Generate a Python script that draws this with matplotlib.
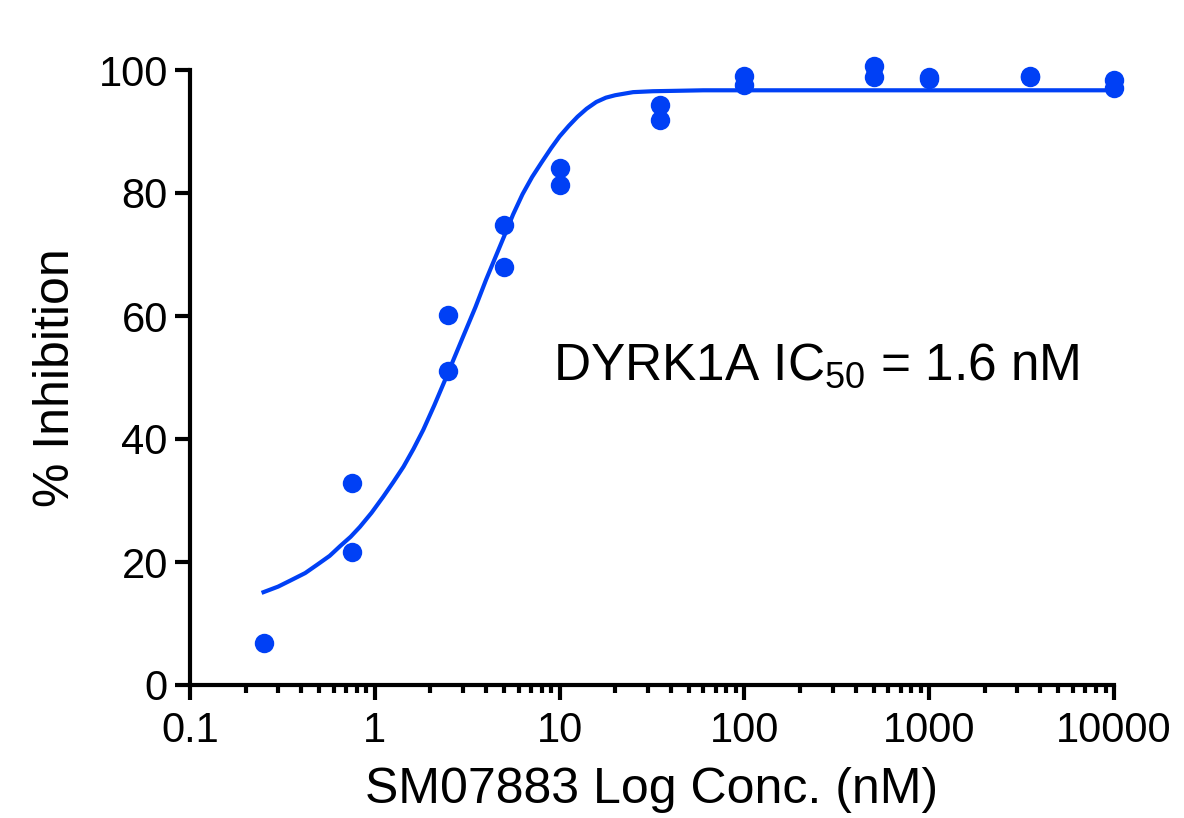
import matplotlib
matplotlib.use("Agg")
import matplotlib.pyplot as plt
from matplotlib.ticker import LogLocator, FixedLocator, NullFormatter

plt.rcParams['font.family'] = ['Liberation Sans', 'DejaVu Sans']
plt.rcParams['mathtext.fontset'] = 'custom'
plt.rcParams['mathtext.rm'] = 'Liberation Sans'
plt.rcParams['mathtext.it'] = 'Liberation Sans:italic'

AZUL = '#0040F5'

# puntos medidos (duplicados)
conc = [0.25, 0.75, 0.75, 2.5, 2.5, 5, 5, 10, 10, 35, 35,
        100, 100, 500, 500, 1000, 1000, 3500, 3500, 10000, 10000]
inhib = [6.8, 32.9, 21.6, 60.2, 51.1, 74.8, 67.9, 84.1, 81.3, 94.3, 91.9,
         99.1, 97.6, 100.6, 98.9, 98.8, 98.5, 99.1, 98.9, 98.4, 97.1]

# curva ajustada
curva_x = [0.25, 0.3, 0.35, 0.42, 0.49, 0.57, 0.65, 0.74, 0.83, 0.96, 1.11,
           1.26, 1.43, 1.62, 1.83, 2.1, 2.4, 2.7, 3.0, 3.5, 4.0, 4.5, 5.0,
           5.6, 6.3, 7.1, 8.0, 9.0, 10, 11.2, 12.5, 14, 15.8, 17.8, 20, 25,
           32, 40, 60, 10000]
curva_y = [15.1, 16.0, 17.0, 18.2, 19.6, 21.0, 22.6, 24.1, 25.7, 28.0, 30.6,
           33.0, 35.5, 38.4, 41.5, 45.5, 49.6, 53.3, 56.6, 61.4, 65.9, 69.6, 72.9,
           76.5, 79.8, 82.6, 85.0, 87.3, 89.2, 90.9, 92.4, 93.7, 94.8, 95.5, 95.9,
           96.4, 96.55, 96.6, 96.7, 96.7]

x_ticks = [0.1, 1, 10, 100, 1000, 10000]
x_labels = ['0.1', '1', '10', '100', '1000', '10000']
y_ticks = [0, 20, 40, 60, 80, 100]

fig = plt.figure(figsize=(11.84, 8.18), dpi=100)
ax = fig.add_axes([190/1184, 1-685/818, (1114-190)/1184, (685-70)/818])

ax.plot(curva_x, curva_y, color=AZUL, lw=3, clip_on=False, zorder=2,
        solid_joinstyle='round')
ax.plot(conc, inhib, 'o', color=AZUL, ms=14, mew=0, clip_on=False, zorder=3)

ax.set_xscale('log')
ax.set_xlim(0.1, 10000)
ax.set_ylim(0, 100)
ax.xaxis.set_major_locator(FixedLocator(x_ticks))
ax.set_xticklabels(x_labels)
ax.xaxis.set_minor_locator(LogLocator(base=10, subs=range(2, 10), numticks=20))
ax.xaxis.set_minor_formatter(NullFormatter())
ax.set_yticks(y_ticks)

for lado in ['top', 'right']:
    ax.spines[lado].set_visible(False)
for lado in ['left', 'bottom']:
    ax.spines[lado].set_linewidth(3)
    ax.spines[lado].set_capstyle('projecting')

ax.tick_params(axis='both', which='major', length=11, width=3, labelsize=30,
               direction='out', pad=5)
ax.tick_params(axis='x', which='major', pad=8)
ax.tick_params(axis='x', which='minor', length=6, width=3, direction='out')

ax.set_xlabel('SM07883 Log Conc. (nM)', fontsize=36, labelpad=11)
ax.set_ylabel('% Inhibition', fontsize=36, labelpad=14)

ax.text(9.2, 49.6, r'DYRK1A IC$_{\mathrm{50}}$ = 1.6 nM', fontsize=37,
        ha='left', va='baseline')

fig.savefig('out.png', dpi=100)
